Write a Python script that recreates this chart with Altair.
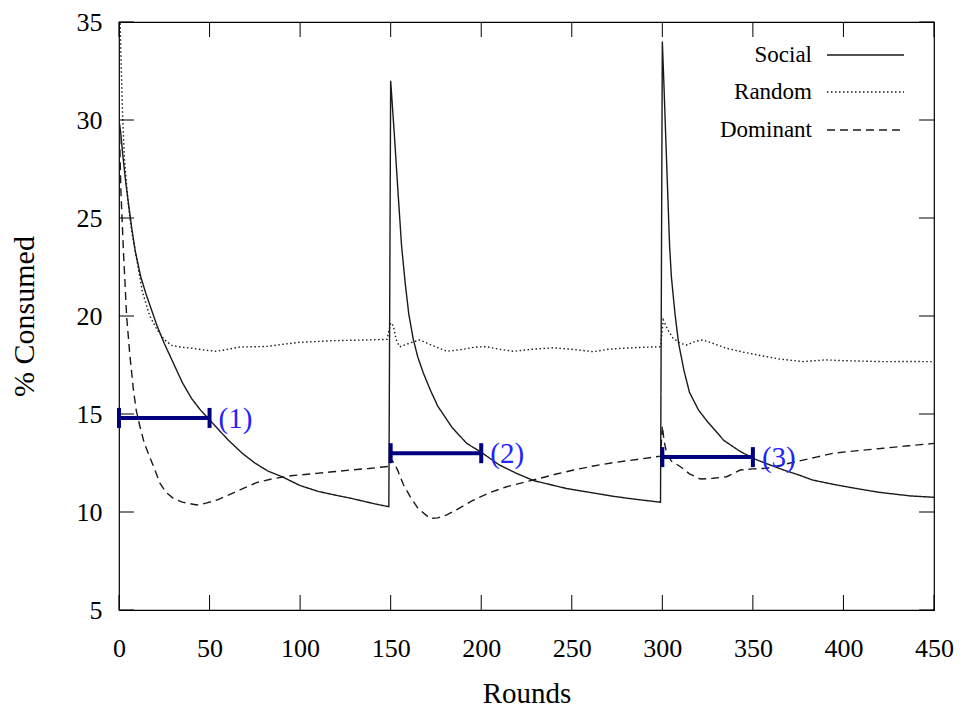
import altair as alt
import pandas as pd

# ---------------- data ----------------
social_x = [0, 1, 2, 3.5, 5, 7, 9, 12, 15, 18, 21, 25, 30, 35, 40, 45, 50, 55, 60, 68, 75, 82, 90,
            100, 110, 120, 128, 135, 142, 149,
            150, 152, 154, 156, 158, 160, 162.5, 165, 168, 172, 176, 184, 192, 200, 210, 220, 229,
            238, 247, 260, 273, 285, 299,
            300, 301, 302, 303, 304, 305, 307, 309, 312, 315, 320, 325, 334, 342, 350, 358, 367,
            375, 383, 395, 407, 420, 437, 450]
social_y = [30.0, 29.3, 28.3, 27.0, 25.9, 24.5, 23.3, 22.0, 21.1, 20.3, 19.5, 18.6, 17.6, 16.6, 15.8,
            15.2, 14.7, 14.2, 13.7, 13.0, 12.5, 12.1, 11.8, 11.35, 11.05, 10.85, 10.7, 10.55, 10.4, 10.27,
            32.0, 29.3, 26.4, 23.6, 21.7, 20.1, 18.8, 17.9, 17.1, 16.2, 15.4, 14.3, 13.5, 13.05, 12.4,
            11.95, 11.6, 11.4, 11.2, 11.0, 10.8, 10.65, 10.5,
            34.0, 31.5, 28.8, 26.2, 23.6, 22.0, 20.1, 18.6, 17.2, 16.1, 15.2, 14.6, 13.65, 13.15, 12.74,
            12.45, 12.14, 11.9, 11.63, 11.4, 11.2, 11.0, 10.82, 10.75]

random_x = [0, 1, 2, 3, 5, 7, 9, 13, 17, 21, 25, 29, 35, 41, 48, 54, 60, 67, 74, 82, 90, 100, 110,
            118, 128, 137, 148, 150, 151.5, 153, 155, 160, 166, 173, 181, 190, 197, 203, 210, 218,
            228, 240, 250, 262, 270, 277, 288, 299, 300.5, 303, 306, 310, 313.5, 318, 322.5, 328,
            335.5, 345, 355.5, 365, 378, 384, 390.5, 400, 410, 422, 435, 450]
random_y = [38.0, 33.5, 30.2, 28.0, 25.8, 24.3, 23.3, 21.2, 20.0, 19.3, 18.8, 18.5, 18.4, 18.35, 18.25,
            18.2, 18.3, 18.42, 18.43, 18.45, 18.55, 18.66, 18.7, 18.74, 18.76, 18.78, 18.81, 19.65,
            19.5, 18.8, 18.43, 18.6, 18.78, 18.5, 18.2, 18.3, 18.42, 18.43, 18.3, 18.2, 18.3, 18.38,
            18.3, 18.18, 18.3, 18.35, 18.4, 18.43, 19.8, 19.3, 18.86, 18.6, 18.52, 18.7, 18.78, 18.6,
            18.35, 18.15, 17.96, 17.8, 17.67, 17.72, 17.76, 17.72, 17.7, 17.67, 17.68, 17.67]

dominant_x = [0, 1, 2.4, 4.2, 6, 8, 9.5, 11.6, 14, 17, 20, 22.6, 26, 30, 35, 43, 48, 54, 60, 68.6,
              76, 85, 95, 109, 118, 127.6, 138, 149, 150, 152, 154, 157, 160.7, 165, 171.7, 176, 181,
              188, 195.6, 205, 214, 223, 232.5, 242, 251, 262, 273, 286, 299, 300, 301, 302.4, 305,
              310, 315, 321, 328, 335.5, 343, 350, 357.6, 366, 374, 385, 394.4, 408, 422, 436, 450]
dominant_y = [30.5, 26.5, 23.4, 20.0, 18.0, 16.2, 15.2, 14.35, 13.5, 12.8, 12.1, 11.47, 11.0, 10.7,
              10.5, 10.36, 10.45, 10.61, 10.85, 11.2, 11.5, 11.7, 11.85, 11.97, 12.05, 12.14, 12.22,
              12.33, 12.7, 12.5, 12.1, 11.4, 10.8, 10.2, 9.67, 9.7, 9.85, 10.2, 10.6, 11.0, 11.29, 11.5,
              11.72, 11.95, 12.14, 12.35, 12.52, 12.68, 12.85, 14.4, 13.6, 13.0, 12.6, 12.31, 11.95,
              11.68, 11.72, 11.8, 12.14, 12.2, 12.23, 12.4, 12.57, 12.8, 13.0, 13.13, 13.25, 13.38, 13.5]

series_names = ["Social", "Random", "Dominant"]

bar_start = [0, 150, 300]
bar_end = [50, 200, 350]
bar_y = [14.8, 13.0, 12.8]
bar_labels = ["(1)", "(2)", "(3)"]

x_ticks = [0, 50, 100, 150, 200, 250, 300, 350, 400, 450]
y_ticks = [5, 10, 15, 20, 25, 30, 35]

# ---------------- tables ----------------
rows = []
for name, xs_, ys_ in zip(series_names, [social_x, random_x, dominant_x],
                          [social_y, random_y, dominant_y]):
    for i, (a, b) in enumerate(zip(xs_, ys_)):
        rows.append({"series": name, "round": a, "value": b, "order": i})
df = pd.DataFrame(rows)

bars = pd.DataFrame({"start": bar_start, "end": bar_end, "y": bar_y, "label": bar_labels})
caps = pd.DataFrame({"x": bar_start + bar_end, "y": bar_y + bar_y})
xt = pd.DataFrame({"t": x_ticks})
yt = pd.DataFrame({"t": y_ticks})

FONT = "Liberation Serif"
INK = "#1a1a1a"
W, H = 815, 588
DASHES = [[1, 0], [1.5, 2.5], [8, 5]]
xs = alt.Scale(domain=[0, 450], nice=False, zero=False)
ys = alt.Scale(domain=[5, 35], nice=False, zero=False)

x_axis = alt.Axis(values=x_ticks, tickSize=0, domain=False, grid=False, labelFont=FONT,
                  labelFontSize=26, labelPadding=25, labelColor="black", labelFlush=False,
                  labelOverlap=False, title="Rounds", titleFont=FONT, titleFontSize=29,
                  titleFontWeight="normal", titleColor="black", titleY=92,
                  titleBaseline="alphabetic")
y_axis = alt.Axis(values=y_ticks, tickSize=0, domain=False, grid=False, labelFont=FONT,
                  labelFontSize=26, labelPadding=17, labelColor="black", labelFlush=False,
                  labelOverlap=False, title="% Consumed", titleFont=FONT, titleFontSize=30,
                  titleFontWeight="normal", titleColor="black", titleX=-86, titleY=H / 2,
                  titleAngle=270, titleAlign="center", titleBaseline="alphabetic")

lines = alt.Chart(df).mark_line(color=INK, strokeWidth=1.4, clip=True).encode(
    x=alt.X("round:Q", scale=xs, axis=x_axis),
    y=alt.Y("value:Q", scale=ys, axis=y_axis),
    order="order:Q",
    strokeDash=alt.StrokeDash("series:N",
                              scale=alt.Scale(domain=series_names, range=DASHES),
                              legend=None),
)

tick_top = alt.Chart(xt).mark_rule(color="black", strokeWidth=1).encode(
    x=alt.X("t:Q", scale=xs), y=alt.value(0), y2=alt.value(15))
tick_bottom = alt.Chart(xt).mark_rule(color="black", strokeWidth=1).encode(
    x=alt.X("t:Q", scale=xs), y=alt.value(H - 15), y2=alt.value(H))
tick_left = alt.Chart(yt).mark_rule(color="black", strokeWidth=1).encode(
    y=alt.Y("t:Q", scale=ys), x=alt.value(0), x2=alt.value(15))
tick_right = alt.Chart(yt).mark_rule(color="black", strokeWidth=1).encode(
    y=alt.Y("t:Q", scale=ys), x=alt.value(W - 15), x2=alt.value(W))

NAVY = "#00007f"
bar_rule = alt.Chart(bars).mark_rule(color=NAVY, strokeWidth=4).encode(
    x=alt.X("start:Q", scale=xs), x2="end:Q", y=alt.Y("y:Q", scale=ys))
bar_caps = alt.Chart(caps).mark_tick(color=NAVY, orient="vertical", size=20, thickness=4,
                                     opacity=1).encode(
    x=alt.X("x:Q", scale=xs), y=alt.Y("y:Q", scale=ys))
bar_text = alt.Chart(bars).mark_text(align="left", baseline="middle", dx=9, dy=1, font=FONT,
                                     fontSize=29, color="#2323ff").encode(
    x=alt.X("end:Q", scale=xs), y=alt.Y("y:Q", scale=ys), text="label:N")

# gnuplot-style key (text on the left, line sample on the right), top-right inside
key_layers = []
key_rows_y = [33, 70, 108]
for name, dash, ry in zip(series_names, DASHES, key_rows_y):
    kd = pd.DataFrame({"label": [name]})
    key_layers.append(alt.Chart(kd).mark_text(align="right", baseline="middle", font=FONT,
                                              fontSize=23, color="black").encode(
        x=alt.value(693), y=alt.value(ry), text="label:N"))
    key_layers.append(alt.Chart(kd).mark_rule(color=INK, strokeWidth=1.4,
                                              strokeDash=dash).encode(
        x=alt.value(708), x2=alt.value(785), y=alt.value(ry)))

chart = alt.layer(
    lines, tick_top, tick_bottom, tick_left, tick_right, bar_rule, bar_caps, bar_text,
    *key_layers
).properties(
    width=W, height=H,
    autosize=alt.AutoSizeParams(type="none"),
    padding={"left": 111, "top": 14, "right": 22, "bottom": 99},
).configure_view(stroke="black", strokeWidth=1.2)

chart.save("out.html", embed_options={"renderer": "svg", "actions": False})
